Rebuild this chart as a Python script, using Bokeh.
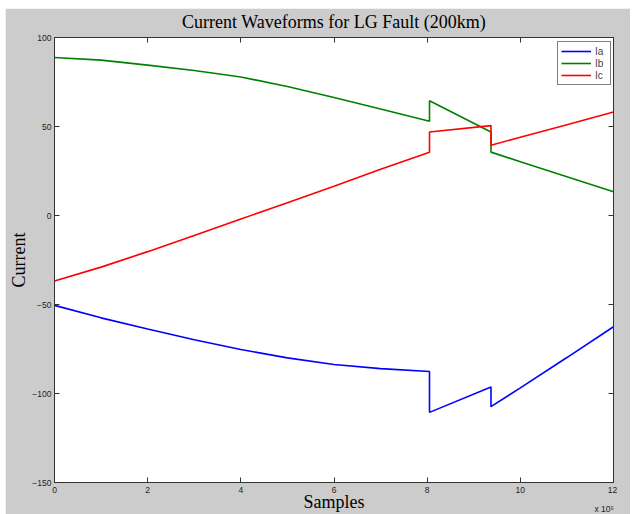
from bokeh.plotting import figure
from bokeh.models import Range1d, FixedTicker, LinearAxis
from bokeh.embed import file_html
from bokeh.resources import INLINE

# Data (x in units of 1e5 samples)
samples = [0, 1, 2, 3, 4, 5, 6, 7, 8.05, 8.05, 9.37, 9.37, 10, 11, 12]
ia = [-50.5, -57.5, -63.8, -69.8, -75.3, -80.0, -83.7, -86.0, -87.6,
      -110.6, -96.3, -107.4, -96.8, -79.8, -62.5]
ib = [88.8, 87.3, 84.5, 81.5, 77.8, 72.5, 66.3, 59.8, 52.9,
      64.5, 46.9, 35.6, 30.2, 21.8, 13.3]
ic = [-36.8, -29.0, -20.3, -11.2, -2.0, 7.2, 16.5, 26.0, 35.5,
      46.9, 50.5, 39.5, 44.0, 51.0, 58.1]
x_ticks = [0, 2, 4, 6, 8, 10, 12]
y_ticks = [-150, -100, -50, 0, 50, 100]
title_text = "Current Waveforms for LG Fault (200km)"
x_label = "Samples"
y_label = "Current"
x_multiplier = "x 10\u2075"

AX = "#333333"
p = figure(width=625, height=506, output_backend="svg", toolbar_location=None,
           x_range=Range1d(0, 12), y_range=Range1d(-150, 100),
           min_border_left=49, min_border_right=17, min_border_top=28,
           min_border_bottom=32)
p.margin = (8, 0, 0, 5)
p.border_fill_color = "#cccccc"
p.background_fill_color = "white"
p.outline_line_color = AX
p.xgrid.visible = False
p.ygrid.visible = False

p.line(samples, ia, color="#0000ff", line_width=1.6, legend_label="Ia")
p.line(samples, ib, color="#008000", line_width=1.6, legend_label="Ib")
p.line(samples, ic, color="#ff0000", line_width=1.6, legend_label="Ic")

def style_axis(ax, ticks, show_labels=True):
    ax.ticker = FixedTicker(ticks=ticks)
    ax.major_tick_in = 5
    ax.major_tick_out = 0
    ax.minor_tick_line_color = None
    ax.axis_line_color = AX
    ax.major_tick_line_color = AX
    ax.major_label_text_font = "Liberation Sans"
    ax.major_label_text_font_size = "8.5px"
    ax.major_label_text_color = "#222222"
    ax.major_label_standoff = 2
    if not show_labels:
        ax.major_label_overrides = {t: "" for t in ticks}
        ax.major_label_standoff = 0

def style_label(ax, text, standoff):
    ax.axis_label = text
    ax.axis_label_text_font = "Liberation Serif"
    ax.axis_label_text_font_size = "18px"
    ax.axis_label_text_font_style = "normal"
    ax.axis_label_text_color = "black"
    ax.axis_label_standoff = standoff

xax = p.xaxis[0]
style_axis(xax, x_ticks)
# multiplier shown under the last tick label (shifted left with no-break spaces)
xax.major_label_overrides = {x_ticks[-1]: str(x_ticks[-1]) + "\n" + x_multiplier
                             + "\u00a0" * 7}
xax.major_label_text_line_height = 1.9
style_axis(p.yaxis[0], y_ticks)
p.yaxis[0].major_label_standoff = 3
style_label(xax, x_label, -25)
style_label(p.yaxis[0], y_label, 0)

top = LinearAxis()
style_axis(top, x_ticks, show_labels=False)
style_label(top, title_text, 6)
p.add_layout(top, "above")
right = LinearAxis()
style_axis(right, y_ticks, show_labels=False)
p.add_layout(right, "right")

lg = p.legend[0]
lg.location = (503, 397)
lg.border_line_color = "black"
lg.background_fill_color = "white"
lg.background_fill_alpha = 1
lg.label_text_font = "Liberation Sans"
lg.label_text_font_size = "10px"
lg.glyph_width = 30
lg.glyph_height = 12
lg.label_height = 12
lg.label_width = 12
lg.spacing = 0
lg.padding = 3
lg.label_standoff = 4

open("out.html", "w").write(file_html(p, INLINE))
